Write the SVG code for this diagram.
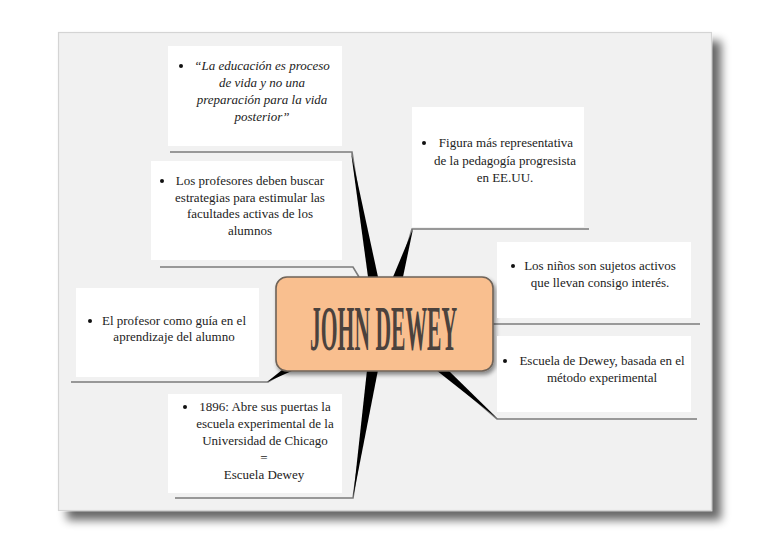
<svg xmlns="http://www.w3.org/2000/svg" width="768" height="544" viewBox="0 0 768 544">
<defs>
<filter id="pageShadow" x="-10%" y="-10%" width="125%" height="125%">
<feGaussianBlur in="SourceAlpha" stdDeviation="5"/>
<feOffset dx="9" dy="9" result="b"/>
<feComponentTransfer><feFuncA type="linear" slope="0.6"/></feComponentTransfer>
<feMerge><feMergeNode/><feMergeNode in="SourceGraphic"/></feMerge>
</filter>
<filter id="nodeShadow" x="-10%" y="-20%" width="125%" height="145%">
<feGaussianBlur in="SourceAlpha" stdDeviation="2"/>
<feOffset dx="2" dy="3"/>
<feComponentTransfer><feFuncA type="linear" slope="0.45"/></feComponentTransfer>
<feMerge><feMergeNode/><feMergeNode in="SourceGraphic"/></feMerge>
</filter>
</defs>
<style>
.box{fill:#ffffff;}
.t{font-family:'Liberation Serif','Times New Roman',serif;font-size:13px;fill:#222222;text-anchor:middle;}
.it{font-style:italic;}
.dot{fill:#111;}
.ul{fill:none;stroke:#7b7b7b;stroke-width:1.6;}
.spike{fill:#000;}
</style>
<rect x="0" y="0" width="768" height="544" fill="#ffffff"/>
<rect x="58.5" y="32.5" width="653" height="478" fill="#f1f1f1" stroke="#d4d4d4" stroke-width="1.2" filter="url(#pageShadow)"/>

<g id="connectors">
<polyline class="ul" points="170,152 352,152 371,277"/>
<polygon class="spike" points="351,152 368,277 378,277"/>
<polyline class="ul" points="160,267 353,267 359,277"/>
<polyline class="ul" points="589,229 412,229 398,277"/>
<polygon class="spike" points="413,229 393,277 403,277"/>
<polyline class="ul" points="490,324 700,324"/>
<polyline class="ul" points="697,419 497,419 440,370"/>
<polygon class="spike" points="436,370 448,370 498,419"/>
<polyline class="ul" points="71,382 268,382 288,370"/>
<polygon class="spike" points="267,382 282,370 294,370"/>
<polyline class="ul" points="175,498 353,498 372,370"/>
<polygon class="spike" points="353,498 367,370 378,370"/>
</g>

<g id="node-center">
<rect x="276" y="277" width="217" height="94" rx="11" ry="11" fill="#f9bf8f" stroke="#6f6358" stroke-width="1.6" filter="url(#nodeShadow)"/>
<text transform="translate(383.5,350) scale(0.3375,1)" x="0" y="0" font-family="'Liberation Serif', serif" font-size="64" font-weight="bold" fill="#4b423d" text-anchor="middle">JOHN DEWEY</text>
</g>

<g id="node-quote">
<rect class="box" x="168" y="46" width="174" height="100"/>
<circle class="dot" cx="181" cy="66" r="2"/>
<text class="t it" x="262" y="70">“La educación es proceso</text>
<text class="t it" x="262" y="87">de vida y no una</text>
<text class="t it" x="262" y="104">preparación para la vida</text>
<text class="t it" x="262" y="121">posterior”</text>
</g>

<g id="node-profesores">
<rect class="box" x="151" y="161" width="191" height="99"/>
<circle class="dot" cx="162" cy="181" r="2"/>
<text class="t" x="250" y="185">Los profesores deben buscar</text>
<text class="t" x="250" y="202">estrategias para estimular las</text>
<text class="t" x="250" y="218">facultades activas de los</text>
<text class="t" x="250" y="235">alumnos</text>
</g>

<g id="node-guia">
<rect class="box" x="76" y="288" width="183" height="89"/>
<circle class="dot" cx="90" cy="321" r="2"/>
<text class="t" x="174" y="325">El profesor como guía en el</text>
<text class="t" x="174" y="341">aprendizaje del alumno</text>
</g>

<g id="node-1896">
<rect class="box" x="168" y="394" width="174" height="99"/>
<circle class="dot" cx="185" cy="407" r="2"/>
<text class="t" x="265" y="411">1896: Abre sus puertas la</text>
<text class="t" x="265" y="428">escuela experimental de la</text>
<text class="t" x="265" y="445">Universidad de Chicago</text>
<text class="t" x="264" y="462">=</text>
<text class="t" x="264" y="479">Escuela Dewey</text>
</g>

<g id="node-figura">
<rect class="box" x="412" y="107" width="172" height="120"/>
<circle class="dot" cx="424" cy="143" r="2"/>
<text class="t" x="506" y="147">Figura más representativa</text>
<text class="t" x="505" y="165">de la pedagogía progresista</text>
<text class="t" x="505" y="182">en EE.UU.</text>
</g>

<g id="node-ninos">
<rect class="box" x="497" y="242" width="194" height="76"/>
<circle class="dot" cx="513" cy="266" r="2"/>
<text class="t" x="600" y="270">Los niños son sujetos activos</text>
<text class="t" x="600" y="287">que llevan consigo interés.</text>
</g>

<g id="node-escuela">
<rect class="box" x="497" y="336" width="194" height="76"/>
<circle class="dot" cx="505" cy="361" r="2"/>
<text class="t" x="602" y="365">Escuela de Dewey, basada en el</text>
<text class="t" x="602" y="382">método experimental</text>
</g>
</svg>
